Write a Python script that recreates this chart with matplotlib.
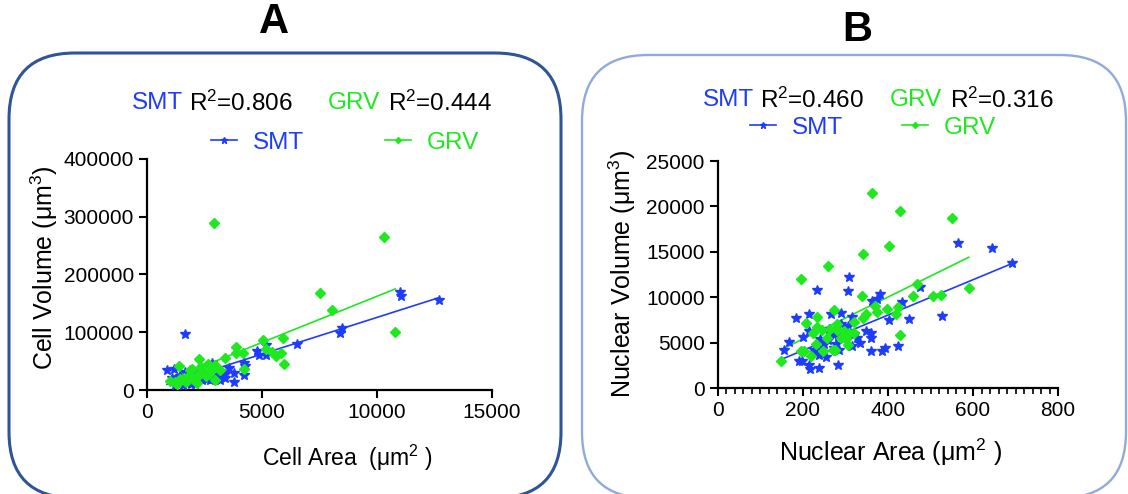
import matplotlib
matplotlib.use("Agg")
import matplotlib.pyplot as plt
import numpy as np
from matplotlib.patches import FancyBboxPatch
from matplotlib.lines import Line2D
from matplotlib.transforms import IdentityTransform
from matplotlib.ticker import MultipleLocator

plt.rcParams['font.family'] = ['Liberation Sans', 'DejaVu Sans']
plt.rcParams['mathtext.fontset'] = 'custom'
plt.rcParams['mathtext.rm'] = 'Liberation Sans'
plt.rcParams['mathtext.it'] = 'Liberation Sans'

BLUE = '#1e3cff'
GREEN = '#1ee81e'

# Panel A: cell area (um^2) vs cell volume (um^3)
a_smt_x = [870, 1188, 1667, 1100, 1300, 1450, 1667, 1550, 1750, 1900, 2100, 2400, 2500, 2750,
           2900, 3100, 3188, 3406, 3406, 3551, 2826, 2200, 2100, 2300, 1400, 1200, 1800, 3000,
           3800, 3797, 4203, 4203, 4275, 4783, 4884, 5159, 5188, 6507, 8406, 8478, 10986, 11043,
           12681, 2600, 1950]
a_smt_y = [34300, 36600, 97000, 20000, 14000, 25000, 32000, 9000, 12000, 11000, 10000, 18000,
           22000, 17400, 27000, 24000, 17400, 20300, 27900, 38900, 46500, 36000, 28000, 29000,
           22000, 9000, 17000, 34000, 30200, 13400, 26700, 46500, 40700, 68000, 61000, 61000,
           78400, 79000, 98800, 107500, 169700, 162700, 155700, 19000, 21000]
a_grv_x = [2928, 10304, 7507, 8029, 10797, 5043, 5899, 5159, 3884, 3855, 4159, 5435, 5609, 5841,
           5942, 4203, 3391, 2275, 3174, 2957, 2638, 1391, 1884, 1957, 2348, 2493, 2681, 2971,
           2174, 1884, 1739, 1449, 1232, 1014, 1304, 2174, 1594, 2000, 2550, 2780, 1700, 1350, 2200]
a_grv_y = [289000, 265500, 168500, 138900, 100500, 87150, 89500, 71500, 74400, 63900, 64500,
           65600, 58700, 63300, 45300, 37200, 55200, 54000, 35400, 43600, 45300, 42400, 34900,
           36600, 39500, 30800, 27900, 17400, 23200, 23200, 20300, 18600, 13400, 16300, 11000,
           11600, 21500, 19000, 25000, 33000, 14000, 16000, 26000]
# fitted lines: slope, intercept, x range
a_smt_fit = (12.7, -1300, 870, 12681)
a_grv_fit = (16.0, 2300, 1014, 10797)
a_r2 = ('0.806', '0.444')

# Panel B: nuclear area (um^2) vs nuclear volume (um^3)
b_smt_x = [692, 565, 645, 308, 234, 307, 475, 382, 363, 374, 432, 528, 450, 402, 315, 289, 267,
           213, 184, 290, 215, 200, 167, 155, 348, 359, 360, 333, 315, 359, 386, 392, 423, 190,
           198, 215, 216, 238, 282, 238, 255, 225, 249, 278, 282, 305, 239, 274, 294, 326, 260,
           270, 300, 285, 245, 320, 228, 262]
b_smt_y = [13713, 15993, 15404, 12243, 10846, 10662, 11103, 10331, 9559, 9780, 9449, 7978, 7574,
           7500, 7831, 8272, 8162, 8125, 7721, 7059, 6250, 5625, 5110, 4191, 6324, 6103, 5478,
           4963, 4596, 4044, 4044, 4412, 4632, 2978, 3015, 2574, 2132, 2206, 2500, 3603, 3419,
           4155, 4890, 4890, 5772, 6838, 5441, 4449, 5809, 5515, 5300, 5900, 6200, 4200, 4700,
           6000, 3900, 6500]
b_grv_x = [362, 429, 551, 402, 340, 258, 196, 468, 591, 339, 459, 506, 524, 272, 369, 375, 397,
           424, 418, 206, 232, 281, 321, 341, 348, 232, 224, 245, 263, 279, 296, 309, 319, 256,
           290, 302, 231, 305, 428, 195, 202, 247, 271, 275, 219, 148]
b_grv_y = [21507, 19522, 18676, 15662, 14780, 13456, 12022, 11507, 10993, 10184, 10184, 10147,
           10221, 8640, 9007, 8419, 8676, 8897, 8199, 7169, 7831, 7096, 7243, 7721, 8125, 6728,
           6066, 6360, 6471, 6360, 6324, 6066, 6066, 5515, 5551, 5404, 4890, 4706, 5809, 4081,
           4081, 4081, 4228, 4228, 3529, 2941]
b_smt_fit = (19.45, 255, 155, 692)
b_grv_fit = (23.06, 792, 148, 590)
b_r2 = ('0.460', '0.316')

W, H = 1128, 494
fig = plt.figure(figsize=(W / 100, H / 100), dpi=100)


def fx(px):
    return px / W


def fy(py):
    return 1 - py / H


def box(x0, top, x1, color, lw):
    p = FancyBboxPatch((x0, -4), x1 - x0, H - top + 4,
                       boxstyle="round,pad=0,rounding_size=66",
                       transform=IdentityTransform(), fill=False,
                       edgecolor=color, linewidth=lw)
    fig.add_artist(p)


box(9, 53, 561, '#2f5597', 2.2)
box(582, 55, 1126, '#8faadc', 1.7)

fig.text(fx(274), fy(22), 'A', fontsize=30, fontweight='bold', ha='center', va='center')
fig.text(fx(857), fy(30), 'B', fontsize=30, fontweight='bold', ha='center', va='center')


def panel(left, right, top, bottom, sx, sy, gx, gy, sfit, gfit):
    ax = fig.add_axes([fx(left), fy(bottom), fx(right) - fx(left), fy(top) - fy(bottom)])
    ax.plot(sx, sy, linestyle='none', marker='*', color=BLUE, markersize=7.5, zorder=3)
    ax.plot(gx, gy, linestyle='none', marker='D', color=GREEN, markersize=5, zorder=3)
    for (m, b, x0, x1), c in ((sfit, BLUE), (gfit, GREEN)):
        xs = np.array([x0, x1])
        ax.plot(xs, m * xs + b, color=c, linewidth=1.2, zorder=2)
    for s in ('top', 'right'):
        ax.spines[s].set_visible(False)
    for s in ('left', 'bottom'):
        ax.spines[s].set_linewidth(1.6)
    ax.tick_params(direction='out', length=6, width=1.5, labelsize=15)
    ax.tick_params(which='minor', direction='out', length=4, width=1.2)
    return ax


def labels(ax, box_px, xl, xl_pos, xl_size, yl, yl_pos, yl_size):
    left, right, top, bottom = box_px
    ax.set_xlabel(xl, fontsize=xl_size)
    ax.set_ylabel(yl, fontsize=yl_size)
    ax.xaxis.label.set_va('center')
    ax.yaxis.label.set_va('center')
    ax.xaxis.set_label_coords((xl_pos[0] - left) / (right - left),
                              (bottom - xl_pos[1]) / (bottom - top))
    ax.yaxis.set_label_coords((yl_pos[0] - left) / (right - left),
                              (bottom - yl_pos[1]) / (bottom - top))


boxA = (147, 492, 159, 390)
axA = panel(*boxA, a_smt_x, a_smt_y, a_grv_x, a_grv_y, a_smt_fit, a_grv_fit)
axA.set_xlim(0, 15000)
axA.set_ylim(0, 400000)
axA.set_xticks([0, 5000, 10000, 15000])
axA.set_yticks([0, 100000, 200000, 300000, 400000])
labels(axA, boxA, 'Cell Area  (μm$^2$ )', (347, 458), 16.5,
       'Cell Volume (μm$^3$)', (44, 268), 18)

boxB = (718, 1058, 161, 388)
axB = panel(*boxB, b_smt_x, b_smt_y, b_grv_x, b_grv_y, b_smt_fit, b_grv_fit)
axB.set_xlim(0, 800)
axB.set_ylim(0, 25000)
axB.set_xticks([0, 200, 400, 600, 800])
axB.xaxis.set_minor_locator(MultipleLocator(20))
axB.set_yticks([0, 5000, 10000, 15000, 20000, 25000])
labels(axB, boxB, 'Nuclear Area (μm$^2$ )', (890, 452), 18,
       'Nuclear Volume (μm$^3$)', (622, 274), 18)


def r2_line(x_smt, x_grv, y, r2):
    fig.text(fx(x_smt), fy(y), 'SMT', color=BLUE, fontsize=17.5, ha='left', va='center')
    fig.text(fx(x_smt + 57), fy(y), 'R$^2$=' + r2[0], fontsize=17.5, ha='left', va='center')
    fig.text(fx(x_grv), fy(y), 'GRV', color=GREEN, fontsize=17.5, ha='left', va='center')
    fig.text(fx(x_grv + 60), fy(y), 'R$^2$=' + r2[1], fontsize=17.5, ha='left', va='center')


r2_line(132, 328, 103, a_r2)
r2_line(703, 890, 100, b_r2)

handles = [Line2D([], [], color=BLUE, marker='*', markersize=5, linewidth=1.2, label='SMT'),
           Line2D([], [], color=GREEN, marker='D', markersize=3, linewidth=1.2, label='GRV')]


def legend(ax, cx, cy, spacing):
    leg = ax.legend(handles=handles, ncol=2, loc='center', frameon=False,
                    bbox_to_anchor=(fx(cx), fy(cy)), bbox_transform=fig.transFigure,
                    fontsize=17.5, handlelength=1.1, handletextpad=0.65,
                    columnspacing=spacing, borderpad=0)
    for t, c in zip(leg.get_texts(), (BLUE, GREEN)):
        t.set_color(c)


legend(axA, 345, 143, 3.3)
legend(axB, 873, 128, 2.4)

fig.savefig('out.png', dpi=100)
